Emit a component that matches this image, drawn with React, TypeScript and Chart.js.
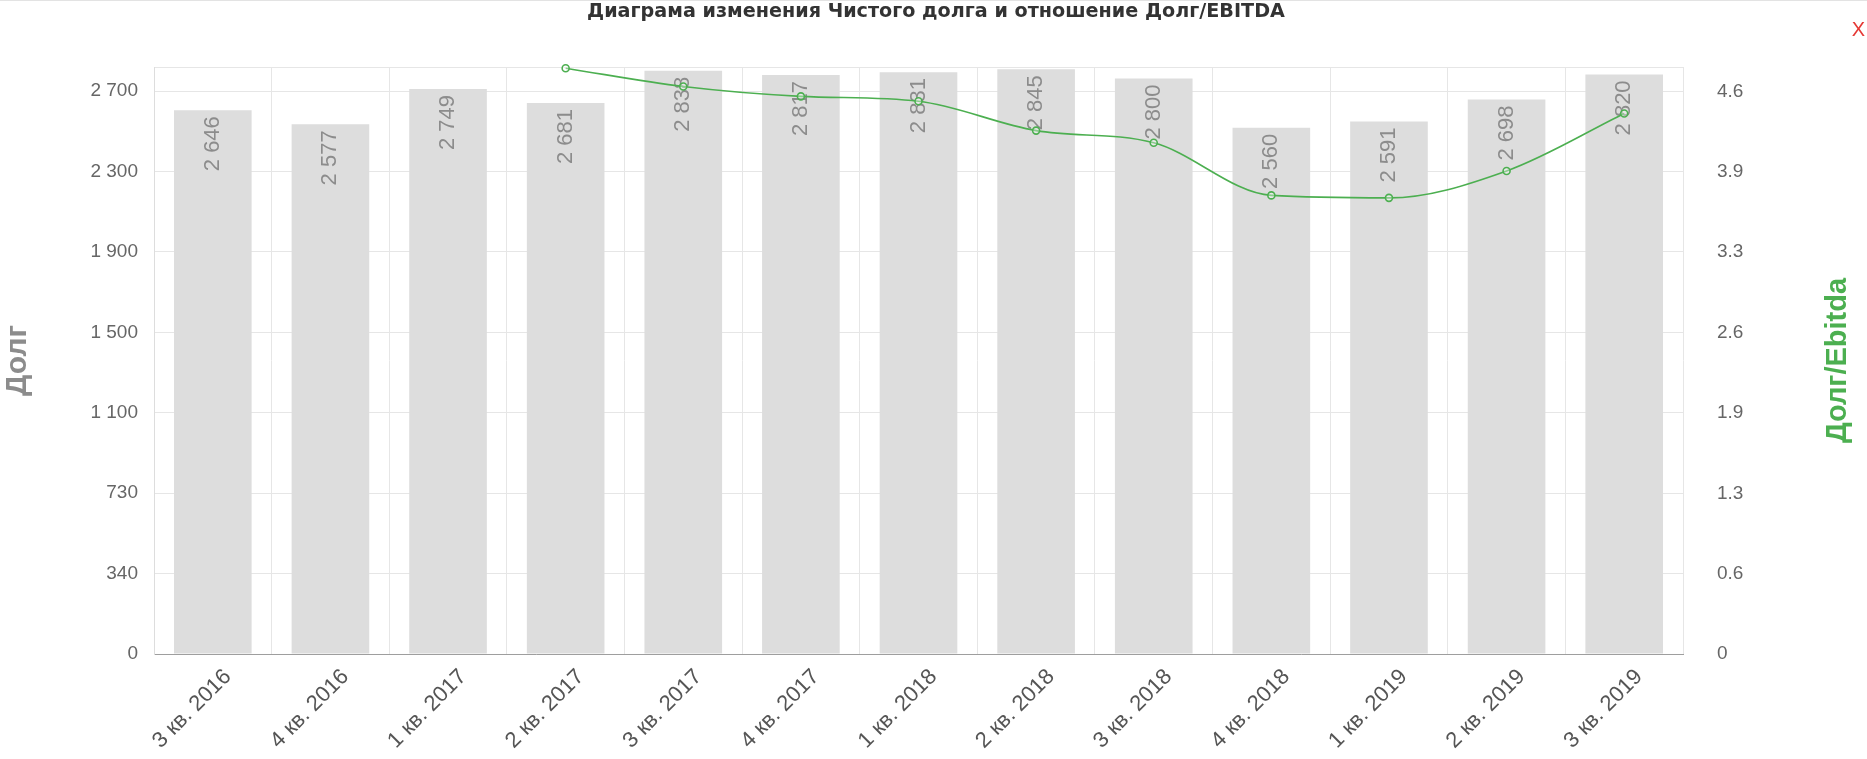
import React, { useEffect, useRef } from 'react';
import { Chart, registerables } from 'chart.js';

Chart.register(...registerables);

const categories = [
  '3 кв. 2016', '4 кв. 2016', '1 кв. 2017', '2 кв. 2017', '3 кв. 2017', '4 кв. 2017',
  '1 кв. 2018', '2 кв. 2018', '3 кв. 2018', '4 кв. 2018', '1 кв. 2019', '2 кв. 2019', '3 кв. 2019',
];
const debtValues = [2646, 2577, 2749, 2681, 2838, 2817, 2831, 2845, 2800, 2560, 2591, 2698, 2820];
const ratioValues = [null, null, null, 4.79, 4.64, 4.56, 4.52, 4.28, 4.18, 3.75, 3.73, 3.95, 4.42];

const leftTickLabels = ['0', '340', '730', '1 100', '1 500', '1 900', '2 300', '2 700'];
const leftTickStep = 391.2;
const leftMax = 2856;
const rightTickLabels = ['0', '0.6', '1.3', '1.9', '2.6', '3.3', '3.9', '4.6'];
const rightTickStep = 0.6571;
const rightMax = 4.8;

const TITLE = 'Диаграма изменения Чистого долга и отношение Долг/EBITDA';
const LEFT_TITLE = 'Долг';
const RIGHT_TITLE = 'Долг/Ebitda';

const GREEN = '#4caf50';
const FONT = '"Liberation Sans", Arial, sans-serif';

const fmt = (v: number) => String(v).replace(/\B(?=(\d{3})+(?!\d))/g, ' ');

const customPlugin = {
  id: 'customDraw',
  afterDatasetDraw(chart: any, args: any) {
    if (args.index !== 1) return;
    const ctx = chart.ctx;
    ctx.save();
    ctx.font = `22px ${FONT}`;
    ctx.fillStyle = '#8c8c8c';
    ctx.textAlign = 'right';
    ctx.textBaseline = 'middle';
    args.meta.data.forEach((bar: any, i: number) => {
      ctx.save();
      ctx.translate(bar.x, bar.y + 6);
      ctx.rotate(-Math.PI / 2);
      ctx.fillText(fmt(debtValues[i]), 0, 0);
      ctx.restore();
    });
    ctx.restore();
  },
  afterDraw(chart: any) {
    const ctx = chart.ctx;
    const area = chart.chartArea;
    const midY = (area.top + area.bottom) / 2;
    ctx.save();
    ctx.font = `bold 17px "DejaVu Sans", sans-serif`;
    const w = ctx.measureText(TITLE).width;
    const size = 17 * 698 / w;
    ctx.font = `bold ${size.toFixed(2)}px "DejaVu Sans", sans-serif`;
    ctx.fillStyle = '#333';
    ctx.textAlign = 'center';
    ctx.textBaseline = 'middle';
    ctx.fillText(TITLE, 936, 11);
    ctx.font = `bold 30px ${FONT}`;
    ctx.fillStyle = '#8c8c8c';
    ctx.save();
    ctx.translate(18, midY);
    ctx.rotate(-Math.PI / 2);
    ctx.fillText(LEFT_TITLE, 0, 0);
    ctx.restore();
    ctx.font = `bold 29px ${FONT}`;
    ctx.fillStyle = GREEN;
    ctx.save();
    ctx.translate(1838, midY);
    ctx.rotate(-Math.PI / 2);
    ctx.fillText(RIGHT_TITLE, 0, 0);
    ctx.restore();
    ctx.restore();
  },
};

export default function App() {
  const ref = useRef<HTMLCanvasElement | null>(null);
  useEffect(() => {
    if (!ref.current) return;
    const chart = new Chart(ref.current, {
      type: 'bar',
      data: {
        labels: categories,
        datasets: [
          {
            type: 'line',
            label: 'Долг/EBITDA',
            data: ratioValues as any,
            yAxisID: 'y1',
            borderColor: GREEN,
            borderWidth: 1.6,
            pointRadius: 3.5,
            pointBorderWidth: 1.6,
            pointBorderColor: GREEN,
            pointBackgroundColor: 'rgba(255,255,255,0.35)',
            cubicInterpolationMode: 'monotone',
            fill: false,
            clip: false as any,
            order: 1,
          } as any,
          {
            type: 'bar',
            label: 'Долг',
            data: debtValues,
            yAxisID: 'y',
            backgroundColor: '#dddddd',
            categoryPercentage: 1,
            barPercentage: 0.66,
            order: 2,
          } as any,
        ],
      },
      options: {
        animation: false,
        responsive: false,
        maintainAspectRatio: false,
        layout: { padding: { top: 66, left: 0, right: 0, bottom: 0 } },
        plugins: {
          legend: { display: false },
          title: { display: false },
          tooltip: { enabled: false },
        },
        scales: {
          x: {
            grid: { color: '#e6e6e6', drawTicks: false },
            border: { color: '#9e9e9e' },
            ticks: {
              minRotation: 45,
              maxRotation: 45,
              autoSkip: false,
              padding: 10,
              labelOffset: 15,
              color: '#555',
              font: { size: 22, family: FONT },
            },
            afterFit: (scale: any) => { scale.height = 105; },
          },
          y: {
            position: 'left',
            min: 0,
            max: leftMax,
            grid: { color: '#e6e6e6', drawTicks: false },
            border: { color: '#dddddd' },
            afterBuildTicks: (scale: any) => {
              scale.ticks = leftTickLabels.map((_, i) => ({ value: i * leftTickStep })).concat([{ value: leftMax }]);
            },
            ticks: {
              padding: 16,
              color: '#666',
              font: { size: 19, family: FONT },
              callback: (_v: any, i: number) => leftTickLabels[i] ?? '',
            },
            afterFit: (scale: any) => { scale.width = 154; },
          },
          y1: {
            position: 'right',
            min: 0,
            max: rightMax,
            grid: { display: false, drawTicks: false },
            border: { display: false },
            afterBuildTicks: (scale: any) => {
              scale.ticks = rightTickLabels.map((_, i) => ({ value: i * rightTickStep })).concat([{ value: rightMax }]);
            },
            ticks: {
              padding: 34,
              color: '#666',
              font: { size: 19, family: FONT },
              callback: (_v: any, i: number) => rightTickLabels[i] ?? '',
            },
            afterFit: (scale: any) => { scale.width = 184; },
          },
        },
      },
      plugins: [customPlugin],
    });
    return () => chart.destroy();
  }, []);

  return (
    <div style={{ position: 'absolute', left: 0, top: 0, width: 1867, height: 759, background: '#fff', borderTop: '1px solid #e3e3e3', boxSizing: 'border-box' }}>
      <canvas ref={ref} width={1867} height={758} style={{ display: 'block', width: 1867, height: 758 }} />
      <div style={{ position: 'absolute', right: 2, top: 17, color: '#e53935', font: `20px ${FONT}` }}>X</div>
    </div>
  );
}
